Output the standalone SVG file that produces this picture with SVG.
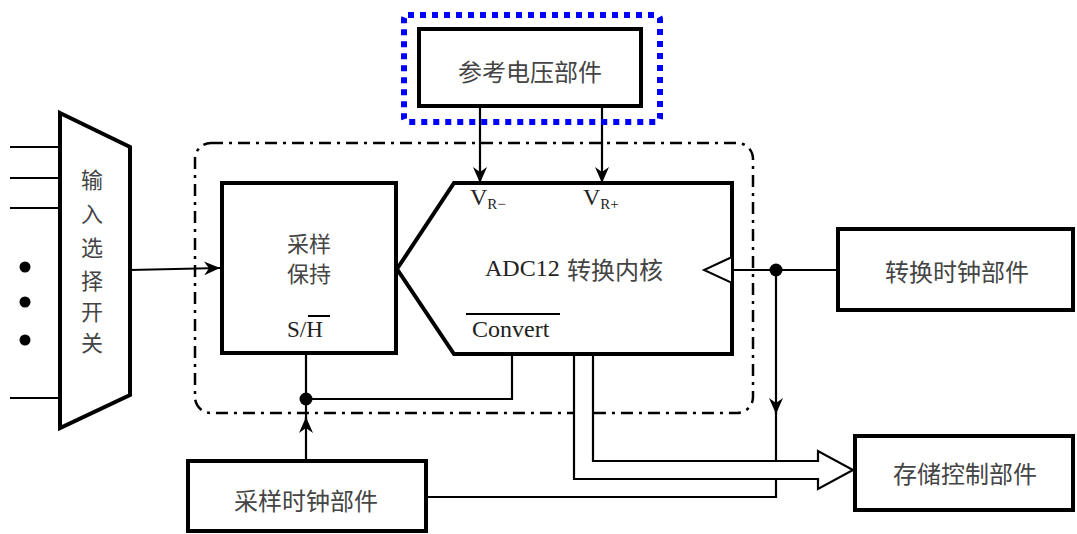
<svg xmlns="http://www.w3.org/2000/svg" width="1077" height="534" viewBox="0 0 1077 534">
<style>
.box{fill:#fff;stroke:#000;stroke-width:4}
.ln{fill:none;stroke:#000;stroke-width:2.2}
.cn{font-family:"Noto Sans CJK SC","Noto Sans",sans-serif;font-size:24px;fill:#444;text-anchor:middle;dominant-baseline:central}
.sm{font-size:22px}
.lt{font-family:"Liberation Serif","Times New Roman",serif;fill:#222}
</style>
<defs>
<marker id="arr" viewBox="0 0 16 14" refX="16" refY="7" markerWidth="16" markerHeight="14" markerUnits="userSpaceOnUse" orient="auto">
<path d="M0,0 L16,7 L0,14 L5,7 z" fill="#000"/>
</marker>
</defs>
<rect width="1077" height="534" fill="#fff"/>

<g id="boundary">
<rect x="195" y="143" width="558" height="270" rx="16" fill="none" stroke="#000" stroke-width="2.5" stroke-dasharray="12 6 3 6"/>
</g>

<g id="connectors">
<line class="ln" x1="10" y1="147" x2="60" y2="147"/>
<line class="ln" x1="10" y1="178" x2="60" y2="178"/>
<line class="ln" x1="10" y1="208" x2="60" y2="208"/>
<line class="ln" x1="10" y1="398" x2="60" y2="398"/>
<circle cx="25" cy="267" r="5.5"/>
<circle cx="25" cy="302" r="5.5"/>
<circle cx="25" cy="340" r="5.5"/>
<line class="ln" x1="130" y1="270" x2="220" y2="268" marker-end="url(#arr)" stroke-width="2.5"/>
<line class="ln" x1="480" y1="107" x2="480" y2="183" marker-end="url(#arr)"/>
<line class="ln" x1="602" y1="107" x2="602" y2="183" marker-end="url(#arr)"/>
<polyline class="ln" points="306,354 306,399 512,399 512,355"/>
<line class="ln" x1="306" y1="460" x2="306" y2="417" marker-end="url(#arr)"/>
<line class="ln" x1="306" y1="420" x2="306" y2="400"/>
<circle cx="306" cy="399" r="6.5"/>
<line class="ln" x1="733" y1="270" x2="838" y2="270"/>
<circle cx="776" cy="270" r="6.5"/>
<line class="ln" x1="776" y1="270" x2="776" y2="414" marker-end="url(#arr)"/>
<polyline class="ln" points="776,410 776,497 426,497"/>
<polygon points="574,355 574,479 818,479 818,489 853,470 818,451 818,461 593,461 593,355" fill="#fff" stroke="#000" stroke-width="2.2"/>
</g>

<g id="mux">
<polygon points="60,113 130,147 130,395 60,428" fill="#fff" stroke="#000" stroke-width="4"/>
<text class="cn sm" x="92" y="178">输</text>
<text class="cn sm" x="92" y="212">入</text>
<text class="cn sm" x="92" y="246">选</text>
<text class="cn sm" x="92" y="279">择</text>
<text class="cn sm" x="92" y="310">开</text>
<text class="cn sm" x="92" y="341">关</text>
</g>

<g id="sample-hold">
<rect class="box" x="222" y="183" width="174" height="170"/>
<text class="cn sm" x="309" y="242">采样</text>
<text class="cn sm" x="309" y="272">保持</text>
<text class="lt" x="287" y="337" font-size="23">S/H</text>
<line x1="308" y1="316" x2="330" y2="316" stroke="#000" stroke-width="2"/>
</g>

<g id="adc-core">
<polygon points="397,269 454,183 732,183 732,354 454,354" fill="#fff" stroke="#000" stroke-width="4"/>
<polygon points="732,257 704,270 732,283" fill="#fff" stroke="#000" stroke-width="2"/>
<text class="lt" x="470" y="205" font-size="24">V<tspan font-size="15" dy="4">R−</tspan></text>
<text class="lt" x="583" y="205" font-size="24">V<tspan font-size="15" dy="4">R+</tspan></text>
<text class="lt" x="485" y="276" font-size="24">ADC12</text>
<text class="cn" x="615" y="268">转换内核</text>
<text class="lt" x="472" y="337" font-size="24">Convert</text>
<line x1="466" y1="314" x2="560" y2="314" stroke="#000" stroke-width="2"/>
</g>

<g id="ref-voltage">
<rect x="404" y="15" width="256" height="107" rx="4" fill="none" stroke="#0000ff" stroke-width="6" stroke-dasharray="6 6"/>
<rect class="box" x="419" y="29" width="222" height="77"/>
<text class="cn" x="530" y="70">参考电压部件</text>
</g>

<g id="conv-clock">
<rect class="box" x="838" y="229" width="235" height="81"/>
<text class="cn" x="957" y="270">转换时钟部件</text>
</g>

<g id="storage-ctrl">
<rect class="box" x="855" y="436" width="218" height="74"/>
<text class="cn" x="965" y="472">存储控制部件</text>
</g>

<g id="sample-clock">
<rect class="box" x="188" y="461" width="238" height="70"/>
<text class="cn" x="306" y="499">采样时钟部件</text>
</g>
</svg>
